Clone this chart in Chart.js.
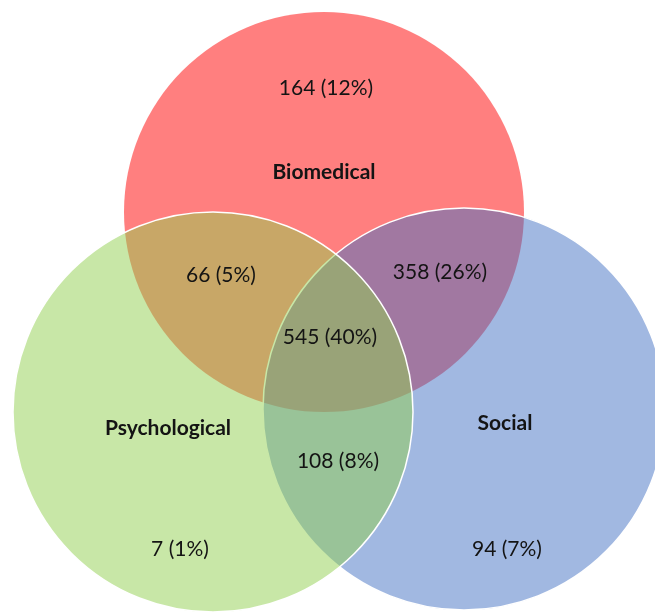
<!DOCTYPE html>
<html>
<head>
<meta charset="utf-8">
<script src="https://cdn.jsdelivr.net/npm/chart.js@4/dist/chart.umd.min.js"></script>
<style>
  body { margin: 0; background: #fff; }
  #wrap { width: 655px; height: 612px; }
</style>
</head>
<body>
<div id="wrap"><canvas id="venn" width="655" height="612"></canvas></div>
<script>
// sets and region counts
const setNames = ["Biomedical", "Social", "Psychological"];
const regionCounts = [164, 66, 358, 545, 108, 7, 94];
const regionPercents = [12, 5, 26, 40, 8, 1, 7];

// layout (axis units: 0..655 x 0..612, y downwards)
const circleX = [324, 464, 213];
const circleY = [212, 409, 412];
const circleR = [200, 201, 200];
const setLabelPos = [[324, 172], [505, 423], [168, 428]];
const regionLabelPos = [[326, 88], [221, 275], [440, 272], [330, 337], [338, 461], [180, 549], [507, 549]];

const fills = ["rgba(255,0,0,0.5)", "rgba(68,114,196,0.5)", "rgba(146,208,80,0.5)"];
const borders = ["rgba(255,255,255,0)", "#ffffff", "#ffffff"];

// scatter without the big-point padding around the chart area
class VennController extends Chart.ScatterController {
  getMaxOverflow() { return false; }
}
VennController.id = "venn";
Chart.register(VennController);

const labelsPlugin = {
  id: "vennLabels",
  afterDatasetsDraw(chart) {
    const { ctx, scales } = chart;
    ctx.save();
    ctx.fillStyle = "#141414";
    ctx.textAlign = "center";
    ctx.textBaseline = "middle";
    ctx.font = "bold 21px Lato";
    setNames.forEach((n, i) => {
      ctx.fillText(n, scales.x.getPixelForValue(setLabelPos[i][0]), scales.y.getPixelForValue(setLabelPos[i][1]));
    });
    ctx.font = "21px Lato";
    regionCounts.forEach((c, i) => {
      ctx.fillText(c + " (" + regionPercents[i] + "%)",
        scales.x.getPixelForValue(regionLabelPos[i][0]), scales.y.getPixelForValue(regionLabelPos[i][1]));
    });
    ctx.restore();
  }
};

new Chart(document.getElementById("venn"), {
  type: "venn",
  data: {
    datasets: [{
      label: "sets",
      data: setNames.map((n, i) => ({ x: circleX[i], y: circleY[i] })),
      pointRadius: circleR,
      pointBackgroundColor: fills,
      pointBorderColor: borders,
      pointBorderWidth: [0, 1.5, 1.5],
      showLine: false,
    }],
  },
  options: {
    responsive: false,
    animation: false,
    events: [],
    clip: false,
    layout: { padding: 0 },
    plugins: { legend: { display: false }, tooltip: { enabled: false } },
    scales: {
      x: { type: "linear", min: 0, max: 655, display: false },
      y: { type: "linear", min: 0, max: 612, reverse: true, display: false },
    },
  },
  plugins: [labelsPlugin],
});
</script>
</body>
</html>
